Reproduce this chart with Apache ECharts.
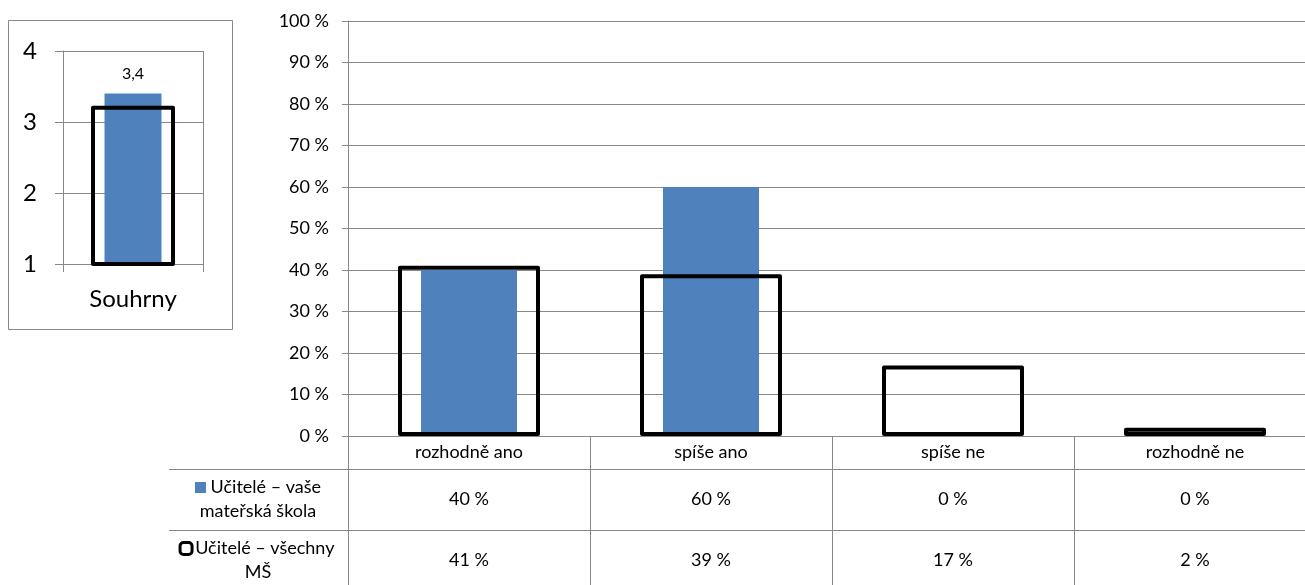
<!DOCTYPE html>
<html><head><meta charset="utf-8">
<script src="https://cdn.jsdelivr.net/npm/echarts@6/dist/echarts.min.js"></script>
<style>html,body{margin:0;padding:0;background:#fff}#c{width:1305px;height:585px}</style>
</head><body><div id="c"></div>
<script>
// ---- data ----
const summaryCategory = ['Souhrny'];
const summarySchool = [3.4];      // Učitelé – vaše mateřská škola
const summaryAll = [3.2];         // Učitelé – všechny MŠ
const summaryTicks = [1, 2, 3, 4];

const categories = ['rozhodně ano', 'spíše ano', 'spíše ne', 'rozhodně ne'];
const schoolValues = [40, 60, 0, 0];   // %
const allValues = [41, 39, 17, 2];     // %
const seriesNames = ['Učitelé – vaše mateřská škola', 'Učitelé – všechny MŠ'];
const legendLines = [['Učitelé – vaše', 'mateřská škola'], ['Učitelé – všechny', 'MŠ']];

const BLUE = '#4F81BD';
const GRID = '#888888';
const FONT = 'Lato';
const summaryMin = summaryTicks[0];

const tableData = [];
[schoolValues, allValues].forEach((arr, r) => arr.forEach((v, i) => tableData.push([i, r, v])));

const chart = echarts.init(document.getElementById('c'), null, {renderer: 'canvas'});
chart.setOption({
  animation: false,
  backgroundColor: '#fff',
  textStyle: {fontFamily: FONT, color: '#000'},
  graphic: [{type: 'rect', shape: {x: 8.5, y: 20.5, width: 224, height: 309}, style: {fill: 'none', stroke: GRID, lineWidth: 1}, silent: true}],
  grid: [
    {left: 63, top: 51, width: 140, height: 213, outerBoundsMode: 'none'},
    {left: 348, top: 21, width: 968, height: 415, outerBoundsMode: 'none'},
    {left: 348, top: 469, width: 968, height: 122, outerBoundsMode: 'none'}
  ],
  xAxis: [
    {gridIndex: 0, type: 'category', data: summaryCategory,
     axisLine: {show: true, lineStyle: {color: GRID}}, axisTick: {show: true, length: 8, lineStyle: {color: GRID}},
     splitLine: {show: true, lineStyle: {color: GRID}},
     axisLabel: {fontSize: 24, color: '#000', margin: 23, fontFamily: FONT}},
    {gridIndex: 1, type: 'category', data: categories,
     axisLine: {show: true, lineStyle: {color: GRID}}, axisTick: {show: true, length: 33, lineStyle: {color: GRID}},
     axisLabel: {fontSize: 18, color: '#000', margin: 7, fontFamily: FONT}},
    {gridIndex: 1, type: 'category', data: categories, show: false},
    {gridIndex: 2, type: 'category', data: categories, show: true,
     axisLine: {show: false}, axisTick: {show: false}, axisLabel: {show: false},
     splitLine: {show: true, lineStyle: {color: GRID}}}
  ],
  yAxis: [
    {gridIndex: 0, type: 'value', min: summaryTicks[0], max: summaryTicks[summaryTicks.length - 1], interval: 1,
     axisLine: {show: true, lineStyle: {color: GRID}}, axisTick: {show: true, length: 8, lineStyle: {color: GRID}},
     splitLine: {show: true, lineStyle: {color: GRID}},
     axisLabel: {fontSize: 24, color: '#000', margin: 26, fontFamily: FONT}},
    {gridIndex: 1, type: 'value', min: 0, max: 100, interval: 10,
     axisLine: {show: true, lineStyle: {color: GRID}}, axisTick: {show: true, length: 6, lineStyle: {color: GRID}},
     splitLine: {show: true, lineStyle: {color: GRID}},
     axisLabel: {fontSize: 18, color: '#000', margin: 19, fontFamily: FONT, formatter: v => v + ' %'}},
    {gridIndex: 2, type: 'category', data: seriesNames, inverse: true,
     axisLine: {show: true, lineStyle: {color: GRID}}, axisTick: {show: true, length: 179, lineStyle: {color: GRID}},
     splitLine: {show: true, lineStyle: {color: GRID}},
     axisLabel: {margin: 90, align: 'center', fontSize: 18, color: '#000', fontFamily: FONT, lineHeight: 24,
       formatter: (v, idx) => '{' + (idx === 0 ? 'a' : 'b') + '|}' + ' ' + legendLines[idx][0] + '\n' + legendLines[idx][1],
       rich: {
         a: {width: 11, height: 11, backgroundColor: BLUE},
         b: {width: 9, height: 9, backgroundColor: '#fff', borderColor: '#000', borderWidth: 3, borderRadius: 2}
       }}},
    {gridIndex: 2, type: 'category', data: seriesNames, inverse: true, offset: 179,
     axisLine: {show: true, lineStyle: {color: GRID}}, axisTick: {show: false}, axisLabel: {show: false}, splitLine: {show: false}}
  ],
  series: [
    {name: seriesNames[0], type: 'bar', xAxisIndex: 0, yAxisIndex: 0, data: summarySchool, barWidth: 57,
     itemStyle: {color: BLUE},
     label: {show: true, position: 'top', distance: 12, fontSize: 16, color: '#000', fontFamily: FONT,
       formatter: p => String(p.value).replace('.', ',')}},
    {name: seriesNames[1], type: 'custom', xAxisIndex: 0, yAxisIndex: 0, z: 5,
     data: summaryAll.map((v, i) => [i, v]),
     renderItem: (params, api) => {
       const top = api.coord([api.value(0), api.value(1)]);
       const bot = api.coord([api.value(0), summaryMin]);
       const w = 80;
       return {type: 'rect', shape: {x: top[0] - w / 2, y: top[1], width: w, height: bot[1] - top[1]},
         style: {fill: 'none', stroke: '#000', lineWidth: 4, lineJoin: 'round'}};
     }},
    {name: seriesNames[0], type: 'bar', xAxisIndex: 1, yAxisIndex: 1, data: schoolValues, barWidth: 96,
     itemStyle: {color: BLUE}},
    {name: seriesNames[1], type: 'bar', xAxisIndex: 2, yAxisIndex: 1, data: allValues, barWidth: 142, clip: false, z: 5,
     itemStyle: {color: 'rgba(0,0,0,0)', borderColor: '#000', borderWidth: 4, borderJoin: 'round'}},
    {type: 'scatter', xAxisIndex: 3, yAxisIndex: 2, data: tableData, symbolSize: 1,
     itemStyle: {color: 'rgba(0,0,0,0)', opacity: 1},
     label: {show: true, position: 'inside', fontSize: 18, color: '#000', opacity: 1, textBorderWidth: 0,
       fontFamily: FONT, formatter: p => p.value[2] + ' %'}}
  ]
});
</script></body></html>
